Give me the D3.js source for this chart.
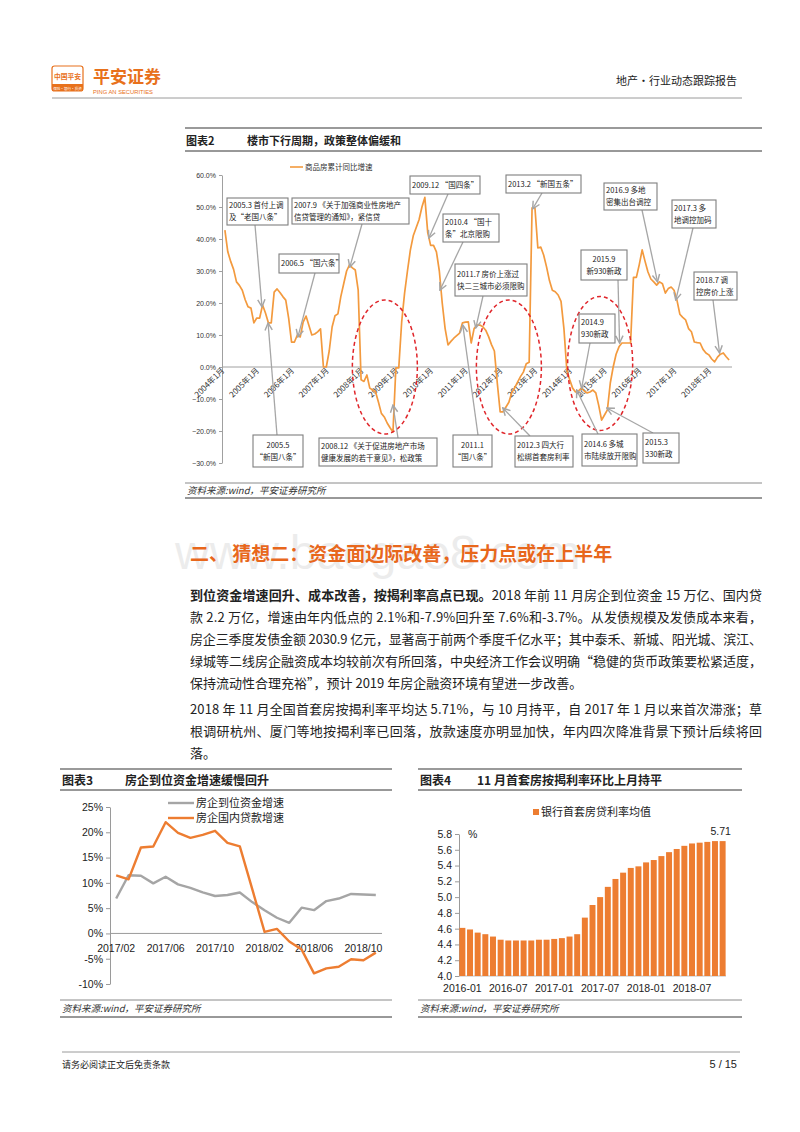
<!DOCTYPE html>
<html>
<head>
<meta charset="utf-8">
<script src="https://cdn.jsdelivr.net/npm/d3@7"></script>
<style>
  body { margin: 0; background: #fff; }
  svg { display: block; }
</style>
</head>
<body>
<svg id="page" width="800" height="1132"></svg>
<script>
// ---- chart 2: 商品房累计同比增速, monthly from 2004-02 ----
const salesStartIndex = 1; // months after 2004-01
const salesGrowth = [
  42.8, 36, 33, 30.5, 26.6, 25.5, 24, 21, 18.8, 18.4, 13.8,
  15.3, 15.3, 19.4, 16.9, 13.8, 13.8, 23.4, 24.4, 23.3, 22, 20.9, 15.3,
  7.8, 7.8, 10, 9.4, 14, 15.9, 13, 10, 10.3, 11, 11.9, 0,
  0, 5, 12.5, 16, 16.6, 22, 26, 30, 31.9, 31, 30.3, 24,
  -4, -4.5, -2.5, -6.6, -7.2, -7.8, -11, -14.5, -15.6, -17.5, -19, -20.3,
  -0.3, -0.3, 14, 23, 30, 36.5, 41, 43.5, 46, 50, 53, 42,
  38, 38, 36, 30, 20, 12, 6.9, 8, 9, 9.8, 10.6, 13.8,
  14, 14.1, 7.5, 12, 13.1, 13.1, 12.6, 11.5, 9.5, 7, 5, -5,
  -14, -14, -12.5, -11, -8, -6.5, -4.7, -3, -1.6, 1, 1.5, 49.7,
  49.7, 37.2, 37.5, 35, 31.3, 27, 24, 23.5, 22.5, 20.5, 12, -1,
  -4, -6.6, -7.8, -7.5, -6.6, -7.5, -8.1, -7.8, -7.2, -8.1, -12, -16.6,
  -15, -13.4, -5, 0, 4, 6.3, 7.5, 7.5, 7.5, 7.5, 28, 28,
  32, 36.6, 33, 29.7, 27.5, 26.6, 25.6, 26.6, 26, 23.1, 24.5, 25,
  24, 20.9, 16.5, 15.5, 14.7, 12, 11, 7.8, 7.6, 7.5, 5.5, 4.4,
  3.8, 2.5, 1.6, 3.1, 4, 4.4, 3.2, 2.2
];
const salesYearLabels = ["2004年1月", "2005年1月", "2006年1月", "2007年1月", "2008年1月",
  "2009年1月", "2010年1月", "2011年1月", "2012年1月", "2013年1月", "2014年1月",
  "2015年1月", "2016年1月", "2017年1月", "2018年1月"];
const salesYTicks = [60, 50, 40, 30, 20, 10, 0, -10, -20, -30];

// policy notes: text, tip = [month index since 2004-01, value]
const policyNotes = [
  { lines: ["2005.3 首付上调", "及“老国八条”"], tip: [13.8, 18.8] },
  { lines: ["2007.9 《关于加强商业性房地产", "信贷管理的通知》，紧信贷"], tip: [44.1, 31.2] },
  { lines: ["2006.5 “国六条”"], tip: [26.2, 9.4] },
  { lines: ["2009.12 “国四条”"], tip: [71.4, 40.3] },
  { lines: ["2010.4 “国十", "条”北京限购"], tip: [75.2, 24] },
  { lines: ["2011.7 房价上涨过", "快二三城市必须限购"], tip: [87.6, 12.2] },
  { lines: ["2013.2 “新国五条”"], tip: [107.2, 49.4] },
  { lines: ["2016.9 多地", "密集出台调控"], tip: [150.3, 26.6] },
  { lines: ["2017.3 多", "地调控加码"], tip: [156.6, 20.9] },
  { lines: ["2015.9", "新930新政"], tip: [137.2, 7.5], center: true },
  { lines: ["2018.7 调", "控房价上涨"], tip: [171.7, 4.4] },
  { lines: ["2014.9", "930新政"], tip: [124.1, -6.6] },
  { lines: ["2005.5", "“新国八条”"], tip: [15.9, 13.75], center: true },
  { lines: ["2008.12 《关于促进房地产市场", "健康发展的若干意见》，松政策"], tip: [59, -11.9] },
  { lines: ["2011.1", "“国八条”"], tip: [83.1, 13.1], center: true },
  { lines: ["2012.3 四大行", "松绑首套房利率"], tip: [96.9, -12.8] },
  { lines: ["2014.6  多城", "市陆续放开限购"], tip: [122.4, -7.2] },
  { lines: ["2015.3", "330新政"], tip: [132.8, -12.8] }
];
// box layout for each note: [x, y, w, h, arrowStartX, arrowStartY]
const noteBoxes = [
  [227, 198, 61, 27, 255, 225], [292, 198, 117, 26, 362, 224], [279, 254, 60, 19, 315, 273],
  [410, 176, 70, 18, 448, 194], [443, 214, 56, 28, 463, 242], [455, 264, 72, 32, 483, 296],
  [506, 175, 75, 18, 542, 193], [604, 183, 53, 27, 642, 210], [672, 200, 44, 28, 693, 228],
  [581, 250, 46, 30, 618, 280], [694, 272, 43, 28, 713, 300], [579, 314, 36, 29, 590, 343],
  [253, 435, 50, 32, 277, 435], [319, 438, 118, 28, 398, 438], [453, 435, 39, 32, 478, 435],
  [515, 436, 58, 31, 530, 436], [582, 434, 55, 32, 598, 434], [643, 433, 36, 30, 653, 433]
];
// dashed red rings: centre [month index, value]
const downCycles = [[56.2, 0], [99.0, 0], [130.5, 1.1]];

// ---- chart 3 ----
const fundMonths = ["2017/02", "2017/03", "2017/04", "2017/05", "2017/06", "2017/07", "2017/08",
  "2017/09", "2017/10", "2017/11", "2017/12", "2018/01", "2018/02", "2018/03", "2018/04",
  "2018/05", "2018/06", "2018/07", "2018/08", "2018/09", "2018/10", "2018/11"];
const fundGrowth = [6.9, 11.5, 11.4, 9.9, 11.2, 9.7, 9.0, 8.1, 7.4, 7.6, 8.1, 6.2, 4.6, 3.1,
  2.1, 5.1, 4.6, 6.4, 6.9, 7.8, 7.7, 7.6];
const loanGrowth = [11.5, 10.7, 17.0, 17.2, 22.0, 19.9, 18.9, 19.5, 20.3, 17.9, 17.2, 8.8, 0.3,
  0.9, -1.6, -3.2, -7.9, -6.9, -6.6, -5.1, -5.3, -3.8];
const fundYTicks = [25, 20, 15, 10, 5, 0, -5, -10];
const fundXLabels = ["2017/02", "2017/06", "2017/10", "2018/02", "2018/06", "2018/10"];

// ---- chart 4 ----
const rateMonths = ["2016-01", "2016-02", "2016-03", "2016-04", "2016-05", "2016-06", "2016-07",
  "2016-08", "2016-09", "2016-10", "2016-11", "2016-12", "2017-01", "2017-02", "2017-03",
  "2017-04", "2017-05", "2017-06", "2017-07", "2017-08", "2017-09", "2017-10", "2017-11",
  "2017-12", "2018-01", "2018-02", "2018-03", "2018-04", "2018-05", "2018-06", "2018-07",
  "2018-08", "2018-09", "2018-10", "2018-11"];
const firstHomeRate = [4.61, 4.59, 4.55, 4.53, 4.50, 4.46, 4.45, 4.45, 4.45, 4.45, 4.46, 4.46,
  4.47, 4.48, 4.50, 4.53, 4.74, 4.90, 5.00, 5.13, 5.23, 5.31, 5.37, 5.39, 5.44, 5.47, 5.52,
  5.57, 5.61, 5.65, 5.68, 5.69, 5.70, 5.71, 5.71];
const rateYTicks = [4.0, 4.2, 4.4, 4.6, 4.8, 5.0, 5.2, 5.4, 5.6, 5.8];
const rateXLabels = ["2016-01", "2016-07", "2017-01", "2017-07", "2018-01", "2018-07"];

// ---- text ----
const para1 = [
  ["到位资金增速回升、成本改善，按揭利率高点已现。", "2018 年前 11 月房企到位资金 15 万亿、国内贷"],
  ["", "款 2.2 万亿，增速由年内低点的 2.1%和-7.9%回升至 7.6%和-3.7%。从发债规模及发债成本来看，"],
  ["", "房企三季度发债金额 2030.9 亿元，显著高于前两个季度千亿水平；其中泰禾、新城、阳光城、滨江、"],
  ["", "绿城等二线房企融资成本均较前次有所回落，中央经济工作会议明确“稳健的货币政策要松紧适度，"],
  ["", "保持流动性合理充裕”，预计 2019 年房企融资环境有望进一步改善。"]
];
const para2 = [
  "2018 年 11 月全国首套房按揭利率平均达 5.71%，与 10 月持平，自 2017 年 1 月以来首次滞涨；草",
  "根调研杭州、厦门等地按揭利率已回落，放款速度亦明显加快，年内四次降准背景下预计后续将回",
  "落。"
];

const CJK = "'Noto Sans CJK SC', 'Noto Sans', sans-serif";
const LAT = "'Liberation Sans', Arial, sans-serif";
const ORANGE = "#ed7d31";

const svg = d3.select("#page");
svg.append("rect").attr("width", 800).attr("height", 1132).attr("fill", "#fff");

const defs = svg.append("defs");
defs.append("marker").attr("id", "arr")
  .attr("viewBox", "0 0 10 10").attr("refX", 9).attr("refY", 5)
  .attr("markerWidth", 7).attr("markerHeight", 7).attr("orient", "auto")
  .append("path").attr("d", "M1,1 L9,5 L1,9")
  .attr("fill", "none").attr("stroke", "#a6a6a6").attr("stroke-width", 1.6);

function hline(x1, x2, y, color, w) {
  svg.append("line").attr("x1", x1).attr("x2", x2).attr("y1", y).attr("y2", y)
    .attr("stroke", color).attr("stroke-width", w);
}
function txt(x, y, s, size, opts = {}) {
  return svg.append("text").attr("x", x).attr("y", y).text(s)
    .attr("font-family", opts.font || CJK).attr("font-size", size)
    .attr("fill", opts.fill || "#222")
    .attr("font-weight", opts.bold ? "bold" : null)
    .attr("font-style", opts.italic ? "italic" : null)
    .attr("text-anchor", opts.anchor || "start");
}

// ---- header ----
svg.append("rect").attr("x", 52).attr("y", 66).attr("width", 31).attr("height", 25).attr("rx", 2.5)
  .attr("fill", "#fff").attr("stroke", "#e8711c").attr("stroke-width", 1.2);
svg.append("rect").attr("x", 52).attr("y", 84).attr("width", 31).attr("height", 7).attr("fill", "#e8711c");
txt(67.5, 79, "中国平安", 6.8, { fill: "#e8711c", bold: true, anchor: "middle" });
txt(67.5, 89.5, "保险·银行·投资", 3.6, { fill: "#fff", anchor: "middle" });
txt(93, 83, "平安证券", 17, { fill: "#e8711c", bold: true });
txt(93, 94, "PING AN SECURITIES", 5.8, { fill: "#e8711c", font: LAT });
txt(737, 85, "地产・行业动态跟踪报告", 11, { anchor: "end" });
hline(52, 742, 98, "#9a9a9a", 1);

// ---- chart 2 ----
hline(185, 762, 128, "#9a9a9a", 2);
txt(186, 145, "图表2", 11, { bold: true });
txt(247, 145, "楼市下行周期，政策整体偏缓和", 11, { bold: true });
hline(185, 762, 151, "#333", 1);

const x2 = d3.scaleLinear().domain([0, 176]).range([222, 732]);
const y2 = d3.scaleLinear().domain([-30, 60]).range([463, 175]);

const g2 = svg.append("g");
const yAxis2 = d3.axisLeft(y2).tickValues(salesYTicks).tickSize(3).tickSizeOuter(0)
  .tickFormat(d => d3.format(".1f")(d) + "%");
g2.append("g").attr("transform", "translate(222,0)").call(yAxis2)
  .call(a => a.select(".domain").attr("stroke", "#a0a0a0"))
  .call(a => a.selectAll(".tick line").attr("stroke", "#a0a0a0"))
  .call(a => a.selectAll("text").attr("font-family", LAT).attr("font-size", 7).attr("fill", "#333"));
g2.append("line").attr("x1", x2(0)).attr("x2", x2(176)).attr("y1", y2(0)).attr("y2", y2(0))
  .attr("stroke", "#a0a0a0").attr("stroke-width", 1);
g2.selectAll(".yl").data(salesYearLabels).enter().append("text")
  .attr("transform", (d, i) => `translate(${x2(i * 12) + 3},${y2(0) + 4}) rotate(-45)`)
  .attr("text-anchor", "end").attr("font-family", CJK).attr("font-size", 8).attr("fill", "#333")
  .text(d => d);

const line2 = d3.line().x((d, i) => x2(i + salesStartIndex)).y(d => y2(d));
g2.append("path").datum(salesGrowth).attr("d", line2)
  .attr("fill", "none").attr("stroke", "#f39a3e").attr("stroke-width", 1.7)
  .attr("stroke-linejoin", "round");

g2.selectAll(".ring").data(downCycles).enter().append("ellipse")
  .attr("cx", d => x2(d[0])).attr("cy", d => y2(d[1])).attr("rx", 32.5).attr("ry", 67)
  .attr("fill", "none").attr("stroke", "#e0262b").attr("stroke-width", 1.5)
  .attr("stroke-dasharray", "4,3");

// legend
g2.append("line").attr("x1", 290).attr("x2", 303).attr("y1", 167).attr("y2", 167)
  .attr("stroke", "#f39a3e").attr("stroke-width", 1.6);
txt(305, 170, "商品房累计同比增速", 7.5, { fill: "#333" });

// arrows then boxes
policyNotes.forEach((n, i) => {
  const b = noteBoxes[i];
  g2.append("line").attr("x1", b[4]).attr("y1", b[5])
    .attr("x2", x2(n.tip[0])).attr("y2", y2(n.tip[1]))
    .attr("stroke", "#a6a6a6").attr("stroke-width", 1.3).attr("marker-end", "url(#arr)");
});
policyNotes.forEach((n, i) => {
  const b = noteBoxes[i];
  g2.append("rect").attr("x", b[0]).attr("y", b[1]).attr("width", b[2]).attr("height", b[3])
    .attr("fill", "#fff").attr("stroke", "#7f7f7f").attr("stroke-width", 1.1);
  const cy = b[1] + b[3] / 2;
  n.lines.forEach((s, k) => {
    g2.append("text")
      .attr("x", n.center ? b[0] + b[2] / 2 : b[0] + 2)
      .attr("y", cy + (k - (n.lines.length - 1) / 2) * 12 + 2.8)
      .attr("text-anchor", n.center ? "middle" : "start")
      .attr("font-family", CJK).attr("font-size", 7.5).attr("fill", "#222").text(s);
  });
});

hline(185, 762, 483, "#8a8a8a", 1);
txt(187, 494, "资料来源:wind，平安证券研究所", 9.5, { italic: true, fill: "#333" });
hline(185, 762, 498, "#333", 1);

// ---- section heading (faint site watermark sits behind it) ----
txt(175, 569, "www.baogao8.com", 48, { font: LAT, fill: "#000" }).attr("opacity", 0.07);
txt(190, 561, "二、 猜想二：资金面边际改善，压力点或在上半年", 19, { bold: true, fill: "#e8671c" });

// ---- paragraphs ----
const lineY = [600, 622, 644, 666, 688];
para1.forEach((p, i) => {
  const t = svg.append("text").attr("x", 190).attr("y", lineY[i])
    .attr("font-family", CJK).attr("font-size", 13).attr("fill", "#222");
  if (p[0]) t.append("tspan").attr("font-weight", "bold").text(p[0]);
  t.append("tspan").text(p[1]);
  if (i < para1.length - 1) t.attr("textLength", 572).attr("lengthAdjust", "spacing");
});
const lineY2 = [714, 736, 758];
para2.forEach((s, i) => {
  const t = svg.append("text").attr("x", 190).attr("y", lineY2[i])
    .attr("font-family", CJK).attr("font-size", 13).attr("fill", "#222").text(s);
  if (i < para2.length - 1) t.attr("textLength", 572).attr("lengthAdjust", "spacing");
});

// ---- chart 3 ----
hline(60, 392, 769, "#9a9a9a", 2);
txt(62, 785, "图表3", 12, { bold: true });
txt(125, 785, "房企到位资金增速缓慢回升", 12, { bold: true });
hline(60, 392, 790, "#333", 1);

const x3 = d3.scaleBand().domain(fundMonths).range([110, 382]);
const y3 = d3.scaleLinear().domain([-10, 25]).range([984, 807]);
const g3 = svg.append("g");
g3.append("g").attr("transform", "translate(110,0)")
  .call(d3.axisLeft(y3).tickValues(fundYTicks).tickSize(4).tickSizeOuter(0).tickFormat(d => d + "%"))
  .call(a => a.select(".domain").attr("stroke", "#9a9a9a"))
  .call(a => a.selectAll(".tick line").attr("stroke", "#9a9a9a"))
  .call(a => a.selectAll("text").attr("font-family", LAT).attr("font-size", 10.5).attr("fill", "#222"));
g3.append("line").attr("x1", 110).attr("x2", 382).attr("y1", y3(0)).attr("y2", y3(0))
  .attr("stroke", "#9a9a9a");
g3.selectAll(".xl").data(fundXLabels).enter().append("text")
  .attr("x", d => x3(d) + x3.bandwidth() / 2).attr("y", y3(0) + 19)
  .attr("text-anchor", "middle").attr("font-family", LAT).attr("font-size", 10.5).attr("fill", "#222")
  .text(d => d);
const line3 = d3.line().x((d, i) => x3(fundMonths[i]) + x3.bandwidth() / 2).y(d => y3(d));
g3.append("path").datum(fundGrowth).attr("d", line3).attr("fill", "none")
  .attr("stroke", "#a5a5a5").attr("stroke-width", 2.4).attr("stroke-linejoin", "round");
g3.append("path").datum(loanGrowth).attr("d", line3).attr("fill", "none")
  .attr("stroke", ORANGE).attr("stroke-width", 2.4).attr("stroke-linejoin", "round");
g3.append("line").attr("x1", 168).attr("x2", 194).attr("y1", 803).attr("y2", 803)
  .attr("stroke", "#a5a5a5").attr("stroke-width", 2.4);
g3.append("line").attr("x1", 168).attr("x2", 194).attr("y1", 818).attr("y2", 818)
  .attr("stroke", ORANGE).attr("stroke-width", 2.4);
txt(196, 807, "房企到位资金增速", 11);
txt(196, 822, "房企国内贷款增速", 11);

hline(60, 392, 1000, "#8a8a8a", 1);
txt(62, 1012, "资料来源:wind，平安证券研究所", 9.5, { italic: true, fill: "#333" });
hline(60, 392, 1017, "#333", 1);

// ---- chart 4 ----
hline(418, 742, 769, "#9a9a9a", 2);
txt(420, 785, "图表4", 12, { bold: true });
txt(477, 785, "11 月首套房按揭利率环比上月持平", 12, { bold: true });
hline(418, 742, 790, "#333", 1);

const x4 = d3.scaleBand().domain(rateMonths).range([459, 726]).paddingInner(0.22).paddingOuter(0.05);
const y4 = d3.scaleLinear().domain([4.0, 5.8]).range([976, 834]);
const g4 = svg.append("g");
g4.append("g").attr("transform", "translate(459,0)")
  .call(d3.axisLeft(y4).tickValues(rateYTicks).tickSize(4).tickSizeOuter(0).tickFormat(d3.format(".1f")))
  .call(a => a.select(".domain").attr("stroke", "#9a9a9a"))
  .call(a => a.selectAll(".tick line").attr("stroke", "#9a9a9a"))
  .call(a => a.selectAll("text").attr("font-family", LAT).attr("font-size", 10.5).attr("fill", "#222"));
g4.append("line").attr("x1", 459).attr("x2", 726).attr("y1", y4(4.0)).attr("y2", y4(4.0))
  .attr("stroke", "#bdbdbd");
g4.selectAll(".bar").data(firstHomeRate).enter().append("rect")
  .attr("x", (d, i) => x4(rateMonths[i])).attr("width", x4.bandwidth())
  .attr("y", d => y4(d)).attr("height", d => y4(4.0) - y4(d))
  .attr("fill", ORANGE);
g4.selectAll(".xl").data(rateXLabels).enter().append("text")
  .attr("x", d => x4(d) + x4.bandwidth() / 2).attr("y", 992)
  .attr("text-anchor", "middle").attr("font-family", LAT).attr("font-size", 10.5).attr("fill", "#222")
  .text(d => d);
const lastI = firstHomeRate.length - 1;
g4.append("text").attr("x", x4(rateMonths[lastI]) + x4.bandwidth() / 2 - 2)
  .attr("y", y4(firstHomeRate[lastI]) - 6).attr("text-anchor", "middle")
  .attr("font-family", LAT).attr("font-size", 10.5).attr("fill", "#222")
  .text(firstHomeRate[lastI].toFixed(2));
txt(468, 838, "%", 10.5, { font: LAT });
g4.append("rect").attr("x", 533).attr("y", 809).attr("width", 6).attr("height", 6).attr("fill", ORANGE);
txt(541, 816, "银行首套房贷利率均值", 11);

hline(418, 742, 1000, "#8a8a8a", 1);
txt(420, 1012, "资料来源:wind，平安证券研究所", 9.5, { italic: true, fill: "#333" });
hline(418, 742, 1017, "#333", 1);

// ---- page footer ----
hline(62, 740, 1052, "#9a9a9a", 1);
txt(62, 1068, "请务必阅读正文后免责条款", 9);
txt(737, 1068, "5 / 15", 11, { font: LAT, anchor: "end" });
</script>
</body>
</html>
